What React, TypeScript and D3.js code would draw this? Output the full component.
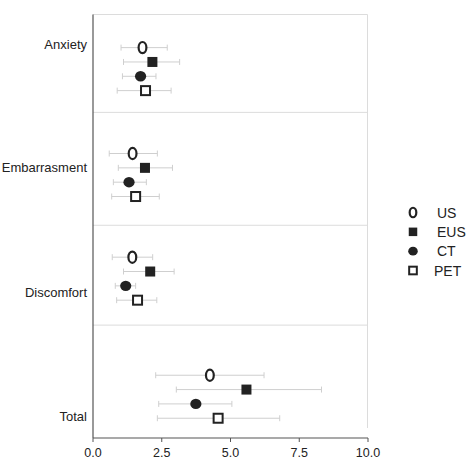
import React from "react";
import * as d3 from "d3";

// ---- data ----
const categories = ["Anxiety", "Embarrasment", "Discomfort", "Total"];
const seriesNames = ["US", "EUS", "CT", "PET"];

const usMean = [1.8, 1.44, 1.43, 4.25];
const eusMean = [2.16, 1.89, 2.08, 5.58];
const ctMean = [1.73, 1.31, 1.19, 3.74];
const petMean = [1.91, 1.55, 1.62, 4.55];

const usLow = [1.02, 0.59, 0.7, 2.28];
const eusLow = [1.11, 0.92, 1.11, 3.03];
const ctLow = [1.07, 0.74, 0.81, 2.39];
const petLow = [0.88, 0.68, 0.86, 2.34];

const usHigh = [2.7, 2.34, 2.17, 6.22];
const eusHigh = [3.15, 2.89, 2.95, 8.31];
const ctHigh = [2.29, 1.94, 1.55, 5.05];
const petHigh = [2.84, 2.41, 2.32, 6.79];

const xTicks = [0, 2.5, 5, 7.5, 10];

// ---- layout (fractions of plot height, from the original figure) ----
const panelEdges = [0, 0.2367, 0.5097, 0.7512, 1];
const groupCenters = [0.1321, 0.3882, 0.6389, 0.9244];
const labelPositions = [0.0725, 0.3696, 0.6715, 0.971];

const W = 474;
const H = 464;
const M = { left: 93, right: 368, top: 14.5, bottom: 428, axisY: 438 };
const FONT = "Liberation Sans, Arial, Helvetica, sans-serif";
const INK = "#222";

const means = [usMean, eusMean, ctMean, petMean];
const lows = [usLow, eusLow, ctLow, petLow];
const highs = [usHigh, eusHigh, ctHigh, petHigh];

function Marker({ kind, x, y, scale = 1 }: { kind: string; x: number; y: number; scale?: number }) {
  if (kind === "US")
    return <ellipse cx={x} cy={y} rx={3.9 * scale} ry={5.6 * scale} fill="#fff" stroke={INK} strokeWidth={2.2} />;
  if (kind === "EUS") {
    const s = 10 * scale;
    return <rect x={x - s / 2} y={y - s / 2} width={s} height={s} fill={INK} />;
  }
  if (kind === "CT")
    return <ellipse cx={x} cy={y} rx={5.6 * scale} ry={5.2 * scale} fill={INK} />;
  const s = 9 * scale;
  return <rect x={x - s / 2} y={y - s / 2} width={s} height={s} fill="#fff" stroke={INK} strokeWidth={2} />;
}

export default function App() {
  const x = d3.scaleLinear().domain([0, 10]).range([M.left, M.right]);
  const y = d3.scaleLinear().domain([0, 1]).range([M.top, M.bottom]);
  const inner = d3.scalePoint<string>().domain(seriesNames).range([-21.5, 21.5]);
  const legendY = d3.scalePoint<string>().domain(seriesNames).range([212.5, 270.5]);

  return (
    <svg width={W} height={H} style={{ position: "absolute", left: 0, top: 0, background: "#fff" }}>
      {/* panel separators */}
      {panelEdges.slice(0, -1).map((p, i) => (
        <line key={"h" + i} x1={M.left} x2={M.right - 0.5} y1={y(p)} y2={y(p)} stroke="#dcdcdc" strokeWidth={1} />
      ))}
      <line x1={M.right - 0.5} x2={M.right - 0.5} y1={y(0)} y2={y(1)} stroke="#dcdcdc" strokeWidth={1} />

      {/* error bars */}
      {seriesNames.map((s, si) =>
        categories.map((c, ci) => {
          const cy = y(groupCenters[ci]) + (inner(s) as number);
          const x1 = x(lows[si][ci]);
          const x2 = x(highs[si][ci]);
          return (
            <g key={s + c} stroke="#cfcfcf" strokeWidth={1}>
              <line x1={x1} x2={x2} y1={cy} y2={cy} />
              <line x1={x1} x2={x1} y1={cy - 3} y2={cy + 3} />
              <line x1={x2} x2={x2} y1={cy - 3} y2={cy + 3} />
            </g>
          );
        })
      )}

      {/* markers */}
      {seriesNames.map((s, si) =>
        categories.map((c, ci) => (
          <Marker key={"m" + s + c} kind={s} x={x(means[si][ci])} y={y(groupCenters[ci]) + (inner(s) as number)} />
        ))
      )}

      {/* axes */}
      <line x1={M.left} x2={M.left} y1={M.top} y2={M.axisY} stroke="#555" strokeWidth={1.2} />
      <line x1={M.left} x2={M.right} y1={M.axisY} y2={M.axisY} stroke="#555" strokeWidth={1.2} />
      {xTicks.map((t) => (
        <g key={"t" + t}>
          <line x1={x(t)} x2={x(t)} y1={M.axisY} y2={M.axisY + 4} stroke="#555" strokeWidth={1} />
          <text x={x(t)} y={457} textAnchor="middle" fontFamily={FONT} fontSize={12.5} fill={INK}>
            {d3.format(".1f")(t)}
          </text>
        </g>
      ))}

      {/* category labels */}
      {categories.map((c, ci) => (
        <text key={"c" + c} x={87} y={y(labelPositions[ci]) + 4.5} textAnchor="end" fontFamily={FONT} fontSize={13} fill={INK}>
          {c}
        </text>
      ))}

      {/* legend */}
      {seriesNames.map((s) => (
        <g key={"l" + s}>
          <Marker kind={s} x={413} y={legendY(s) as number} scale={0.85} />
          <text x={s === "PET" ? 434 : 437} y={(legendY(s) as number) + 5} fontFamily={FONT} fontSize={14} fill={INK}>
            {s}
          </text>
        </g>
      ))}
    </svg>
  );
}
